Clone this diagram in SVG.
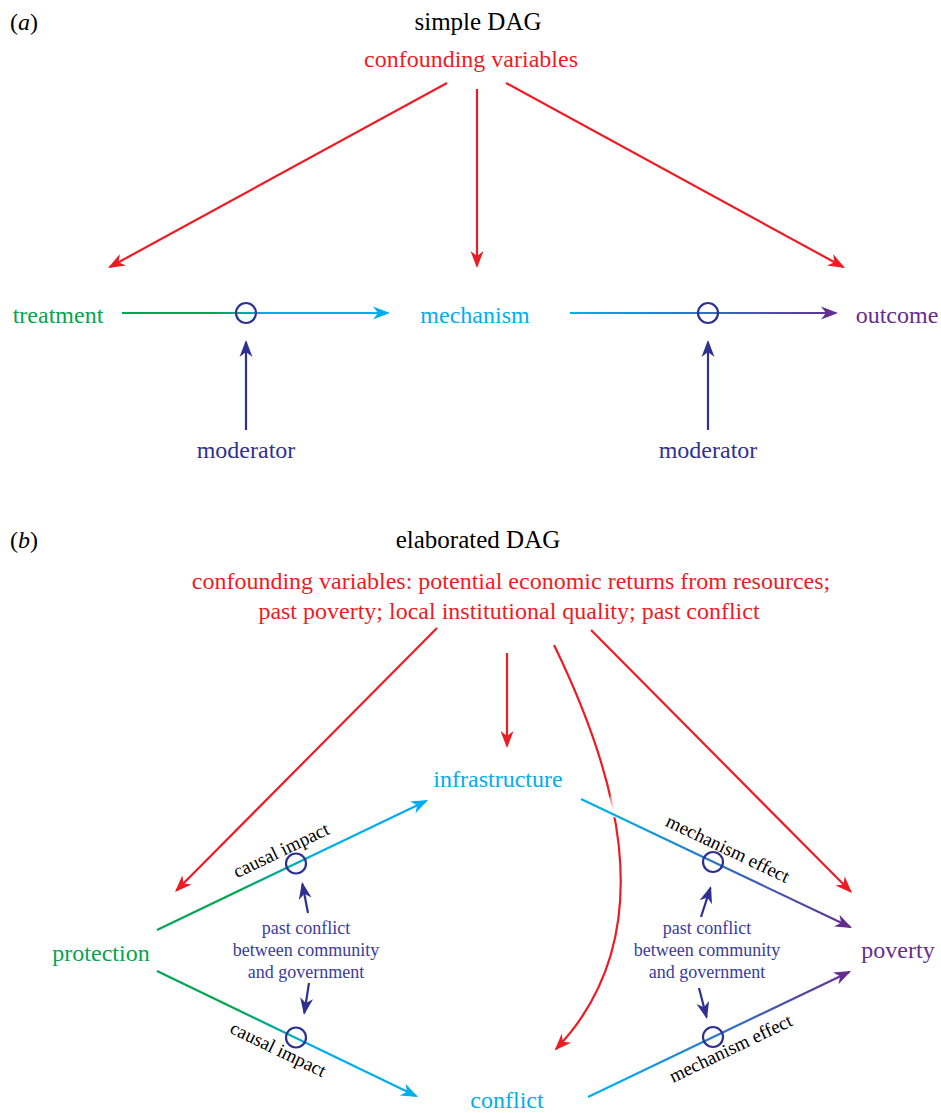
<svg xmlns="http://www.w3.org/2000/svg" width="941" height="1113" viewBox="0 0 941 1113">
<style>
text{font-family:"Liberation Serif","Times New Roman",serif;}
.title{font-size:25px;fill:#000;text-anchor:middle;}
.panel{font-size:24px;fill:#000;}
.lbl{font-size:24px;text-anchor:middle;}
.red{fill:#ed1c24;}
.green{fill:#00a651;}
.cyan{fill:#00aeef;}
.purple{fill:#662d91;}
.navy{fill:#2e3192;}
.mod{font-size:18px;fill:#3a3b9e;text-anchor:middle;}
.elbl{font-size:19px;fill:#000;text-anchor:middle;}
.ln{fill:none;stroke-width:2.2;}
.rl{stroke:#ed1c24;marker-end:url(#aRed);}
.nl{stroke:#2e3192;marker-end:url(#aNavy);}
.circ{fill:none;stroke:#2e3192;stroke-width:2.2;}
</style>
<defs>
<marker id="aRed" markerUnits="userSpaceOnUse" markerWidth="17" markerHeight="15" refX="15" refY="7.5" orient="auto"><path d="M0,1 L17,7.5 L0,14 L5,7.5 Z" fill="#ed1c24"/></marker>
<marker id="aCyan" markerUnits="userSpaceOnUse" markerWidth="17" markerHeight="15" refX="15" refY="7.5" orient="auto"><path d="M0,1 L17,7.5 L0,14 L5,7.5 Z" fill="#00aeef"/></marker>
<marker id="aPurple" markerUnits="userSpaceOnUse" markerWidth="17" markerHeight="15" refX="15" refY="7.5" orient="auto"><path d="M0,1 L17,7.5 L0,14 L5,7.5 Z" fill="#662d91"/></marker>
<marker id="aNavy" markerUnits="userSpaceOnUse" markerWidth="17" markerHeight="15" refX="15" refY="7.5" orient="auto"><path d="M0,1 L17,7.5 L0,14 L5,7.5 Z" fill="#2e3192"/></marker>
<linearGradient id="gTM" gradientUnits="userSpaceOnUse" x1="122" y1="313" x2="390" y2="313"><stop offset="0.35" stop-color="#00a651"/><stop offset="0.55" stop-color="#00aeef"/></linearGradient>
<linearGradient id="gMO" gradientUnits="userSpaceOnUse" x1="570" y1="313" x2="840" y2="313"><stop offset="0" stop-color="#00aeef"/><stop offset="1" stop-color="#662d91"/></linearGradient>
<linearGradient id="gPI" gradientUnits="userSpaceOnUse" x1="157" y1="930" x2="428" y2="800"><stop offset="0.3" stop-color="#00a651"/><stop offset="0.6" stop-color="#00aeef"/></linearGradient>
<linearGradient id="gPC" gradientUnits="userSpaceOnUse" x1="157" y1="971" x2="418" y2="1097"><stop offset="0.3" stop-color="#00a651"/><stop offset="0.6" stop-color="#00aeef"/></linearGradient>
<linearGradient id="gIP" gradientUnits="userSpaceOnUse" x1="581" y1="799" x2="852" y2="928"><stop offset="0.1" stop-color="#00aeef"/><stop offset="1" stop-color="#662d91"/></linearGradient>
<linearGradient id="gCP" gradientUnits="userSpaceOnUse" x1="588" y1="1097" x2="851" y2="971"><stop offset="0.1" stop-color="#00aeef"/><stop offset="1" stop-color="#662d91"/></linearGradient>
<linearGradient id="gHalo" x1="0" y1="0" x2="0" y2="1"><stop offset="0" stop-color="#fff" stop-opacity="0"/><stop offset="0.75" stop-color="#fff" stop-opacity="1"/><stop offset="1" stop-color="#fff" stop-opacity="1"/></linearGradient>
</defs>
<rect width="941" height="1113" fill="#fff"/>

<!-- panel (a) -->
<text class="panel" x="10" y="30">(<tspan font-style="italic">a</tspan>)</text>
<text class="title" x="478" y="30">simple DAG</text>

<g id="connectors-a">
<line class="ln rl" x1="447" y1="83" x2="109.8" y2="267"/>
<line class="ln rl" x1="477" y1="89" x2="477" y2="266"/>
<line class="ln rl" x1="506" y1="83" x2="843.2" y2="267"/>
<line class="ln" stroke="url(#gTM)" marker-end="url(#aCyan)" x1="122" y1="313" x2="388" y2="313"/>
<line class="ln" stroke="url(#gMO)" marker-end="url(#aPurple)" x1="570" y1="313" x2="836" y2="313"/>
<line class="ln nl" x1="246" y1="430" x2="246" y2="342"/>
<line class="ln nl" x1="708" y1="430" x2="708" y2="342"/>
<circle class="circ" cx="246" cy="313" r="10"/>
<circle class="circ" cx="708" cy="313" r="10"/>
</g>

<g id="node-confounders-a"><text class="lbl red" x="471" y="67">confounding variables</text></g>
<g id="node-treatment"><text class="lbl green" x="58" y="323">treatment</text></g>
<g id="node-mechanism"><text class="lbl cyan" x="475" y="323">mechanism</text></g>
<g id="node-outcome"><text class="lbl purple" x="897" y="323">outcome</text></g>
<g id="node-moderator-1"><text class="lbl navy" x="246" y="458">moderator</text></g>
<g id="node-moderator-2"><text class="lbl navy" x="708" y="458">moderator</text></g>

<!-- panel (b) -->
<text class="panel" x="10" y="548">(<tspan font-style="italic">b</tspan>)</text>
<text class="title" x="478" y="548">elaborated DAG</text>

<g id="connectors-b">
<line class="ln rl" x1="437" y1="628" x2="176.4" y2="890.6"/>
<line class="ln rl" x1="507" y1="653" x2="507" y2="746"/>
<path class="ln rl" d="M554,645 C610,760 670,930 556,1049"/>
<line class="ln rl" x1="591" y1="630" x2="850.6" y2="891.6"/>
<g transform="translate(614.5,815) rotate(25.46)"><rect x="-12" y="-22" width="24" height="24" fill="url(#gHalo)"/></g>
<line class="ln" stroke="url(#gPI)" marker-end="url(#aCyan)" x1="157" y1="930" x2="426.2" y2="800.9"/>
<line class="ln" stroke="url(#gPC)" marker-end="url(#aCyan)" x1="157" y1="971" x2="416.2" y2="1096.1"/>
<line class="ln" stroke="url(#gIP)" marker-end="url(#aPurple)" x1="581" y1="799" x2="850.2" y2="927.1"/>
<line class="ln" stroke="url(#gCP)" marker-end="url(#aPurple)" x1="588" y1="1097" x2="849.2" y2="971.9"/>
<line class="ln nl" x1="308" y1="913" x2="302.4" y2="884"/>
<line class="ln nl" x1="309" y1="983" x2="304.3" y2="1013"/>
<line class="ln nl" x1="701" y1="917" x2="710.4" y2="887.9"/>
<line class="ln nl" x1="699" y1="988" x2="706.5" y2="1017"/>
<circle class="circ" cx="296" cy="863.5" r="10"/>
<circle class="circ" cx="296" cy="1037.5" r="10"/>
<circle class="circ" cx="713" cy="862" r="10"/>
<circle class="circ" cx="713" cy="1037" r="10"/>
<text class="elbl" transform="translate(289,866.7) rotate(-25.6)" y="-12">causal impact</text>
<text class="elbl" transform="translate(286,1033.3) rotate(25.8)" y="24">causal impact</text>
<text class="elbl" transform="translate(720,865.2) rotate(25.46)" y="-12">mechanism effect</text>
<text class="elbl" transform="translate(723,1032.3) rotate(-25.6)" y="24">mechanism effect</text>
</g>

<g id="node-confounders-b">
<text class="lbl red" x="511" y="589">confounding variables: potential economic returns from resources;</text>
<text class="lbl red" x="509" y="619">past poverty; local institutional quality; past conflict</text>
</g>
<g id="node-infrastructure"><text class="lbl cyan" x="498" y="787">infrastructure</text></g>
<g id="node-protection"><text class="lbl green" x="101" y="961">protection</text></g>
<g id="node-poverty"><text class="lbl purple" x="898" y="958">poverty</text></g>
<g id="node-conflict"><text class="lbl cyan" x="507" y="1108">conflict</text></g>
<g id="node-pastconflict-1">
<text class="mod" x="306" y="934">past conflict</text>
<text class="mod" x="306" y="956">between community</text>
<text class="mod" x="306" y="978">and government</text>
</g>
<g id="node-pastconflict-2">
<text class="mod" x="707" y="934">past conflict</text>
<text class="mod" x="707" y="956">between community</text>
<text class="mod" x="707" y="978">and government</text>
</g>
</svg>
